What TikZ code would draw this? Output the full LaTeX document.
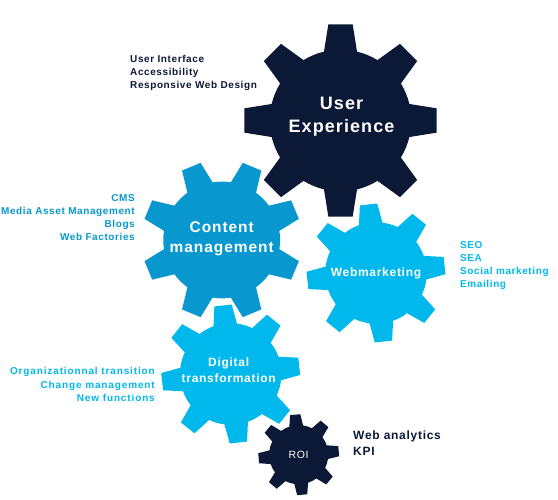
\documentclass[tikz,border=0pt]{standalone}
\usepackage{fontspec}
\setmainfont{Liberation Sans}[LetterSpace=6]
\definecolor{navy}{HTML}{0B1836}
\definecolor{midblue}{HTML}{0897CE}
\definecolor{skyblue}{HTML}{00B8EC}
% name, x, y, outer radius, rotation, colour
\newcommand{\gearwheel}[6]{%
  \begin{scope}[shift={(#2,#3)}, rotate=#5]
    \fill[#6] (-13.5:#4*0.73) \foreach \a in {0,45,...,315} {
      -- ({\a-13.5}:#4*0.73) -- ({\a-7.2}:#4) -- ({\a+7.2}:#4) -- ({\a+13.5}:#4*0.73)
      arc[start angle=\a+13.5, end angle=\a+31.5, radius=#4*0.73]
    } -- cycle;
    \coordinate (#1) at (0,0);
  \end{scope}
}
\begin{document}
\begin{tikzpicture}[
    x=1pt, y=1pt,
    gearlabel/.style={
        text=white,
        align=center,
        inner sep=0pt
    },
    listlabel/.style={
        font=\bfseries\fontsize{10}{13.1}\selectfont,
        inner sep=0pt
    }
]
\useasboundingbox (0,0) rectangle (558,500);

% Gears
\gearwheel{ux}{340.5}{379.5}{97}{0}{navy}
\gearwheel{cm}{221.7}{260}{80}{22.5}{midblue}
\gearwheel{wm}{376}{227}{69.5}{6.2}{skyblue}
\gearwheel{dt}{230.7}{126}{69.5}{6.4}{skyblue}
\gearwheel{kp}{298.7}{45.3}{40.5}{5}{navy}

% Gear names
\node[gearlabel, font=\bfseries\fontsize{18}{23}\selectfont, xshift=1pt, yshift=3.5pt] (uxname) at (ux) {User\\Experience};
\node[gearlabel, font=\bfseries\fontsize{15.5}{20}\selectfont, yshift=1.5pt] (cmname) at (cm) {Content\\management};
\node[gearlabel, font=\bfseries\fontsize{12}{14}\selectfont] (wmname) at (wm) {Webmarketing};
\node[gearlabel, font=\bfseries\fontsize{12}{16}\selectfont, xshift=-2pt, yshift=4pt] (dtname) at (dt) {Digital\\transformation};
\node[gearlabel, font=\fontsize{10.5}{12}\selectfont] (kpname) at (kp) {ROI};

% Lists
\node[listlabel, text=navy, align=left, anchor=north west] (uxlist) at (130,445) {User Interface\\Accessibility\\Responsive Web Design};
\node[listlabel, text=midblue, align=right, anchor=north east] (cmlist) at (135,306) {CMS\\Media Asset Management\\Blogs\\Web Factories};
\node[listlabel, text=skyblue, align=left, anchor=north west] (wmlist) at (460,259) {SEO\\SEA\\Social marketing\\Emailing};
\node[listlabel, text=skyblue, align=right, anchor=north east, font=\bfseries\fontsize{10}{13.2}\selectfont\addfontfeature{LetterSpace=8.7}] (dtlist) at (155,132.5) {Organizationnal transition\\Change management\\New functions};
\node[listlabel, text=navy, align=left, anchor=north west, font=\bfseries\fontsize{12}{16}\selectfont] (kplist) at (353,69.5) {Web analytics\\KPI};
\end{tikzpicture}
\end{document}
